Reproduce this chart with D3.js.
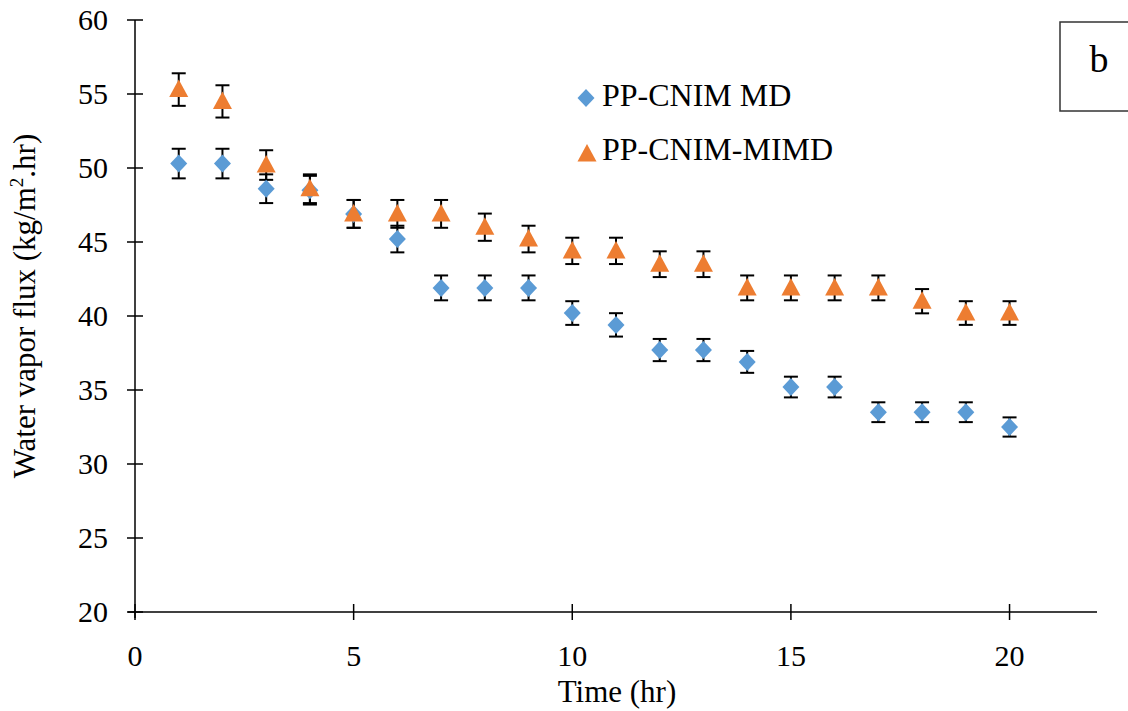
<!DOCTYPE html>
<html><head><meta charset="utf-8">
<script src="https://cdn.jsdelivr.net/npm/d3@7"></script>
<style>body{margin:0;background:#fff}svg{display:block}text{font-family:"Liberation Serif","Times New Roman",serif;fill:#000}</style>
</head><body>
<svg id="c" width="1128" height="711"></svg>
<script>
const times = [1,2,3,4,5,6,7,8,9,10,11,12,13,14,15,16,17,18,19,20];
const mdFlux = [50.3,50.3,48.6,48.5,46.9,45.2,41.9,41.9,41.9,40.2,39.4,37.7,37.7,36.9,35.2,35.2,33.5,33.5,33.5,32.5];
const mdErr = [1.0,1.0,0.97,0.97,0.94,0.9,0.84,0.84,0.84,0.8,0.79,0.75,0.75,0.74,0.7,0.7,0.67,0.67,0.67,0.65];
const mimdFlux = [55.3,54.5,50.2,48.6,46.9,46.9,46.9,46.0,45.2,44.4,44.4,43.5,43.5,41.9,41.9,41.9,41.9,41.0,40.2,40.2];
const mimdErr = [1.1,1.09,1.0,0.97,0.94,0.94,0.94,0.92,0.9,0.89,0.89,0.87,0.87,0.84,0.84,0.84,0.84,0.82,0.8,0.8];
const xTicks = [0,5,10,15,20];
const yTicks = [20,25,30,35,40,45,50,55,60];
const seriesNames = ["PP-CNIM MD","PP-CNIM-MIMD"];
const colors = ["#5b9bd5","#ed7d31"];

const svg = d3.select("#c");
const x = d3.scaleLinear().domain([0,22]).range([135,1097]);
const y = d3.scaleLinear().domain([20,60]).range([612,20]);

// axes
svg.append("line").attr("x1",128).attr("x2",x(22)).attr("y1",612).attr("y2",612).attr("stroke","#000").attr("stroke-width",1.5);
svg.append("line").attr("x1",135).attr("x2",135).attr("y1",y(20)+6).attr("y2",y(60)).attr("stroke","#000").attr("stroke-width",1.5);
svg.selectAll(".xt").data(xTicks).enter().append("line")
  .attr("x1",d=>x(d)).attr("x2",d=>x(d)).attr("y1",604).attr("y2",620).attr("stroke","#000").attr("stroke-width",1.5);
svg.selectAll(".yt").data(yTicks).enter().append("line")
  .attr("x1",127).attr("x2",143).attr("y1",d=>y(d)).attr("y2",d=>y(d)).attr("stroke","#000").attr("stroke-width",1.5);
svg.selectAll(".xl").data(xTicks).enter().append("text")
  .attr("x",d=>x(d)).attr("y",666).attr("text-anchor","middle").attr("font-size",30).text(d=>d);
svg.selectAll(".yl").data(yTicks).enter().append("text")
  .attr("x",108).attr("y",d=>y(d)+10).attr("text-anchor","end").attr("font-size",30).text(d=>d);

svg.append("text").attr("x",617).attr("y",702).attr("text-anchor","middle").attr("font-size",31).text("Time (hr)");
const yl = svg.append("text").attr("transform","translate(35,306) rotate(-90)").attr("text-anchor","middle").attr("font-size",31);
yl.append("tspan").text("Water vapor flux (kg/m");
yl.append("tspan").attr("font-size",19).attr("dy",-12).text("2");
yl.append("tspan").attr("dy",12).text(".hr)");

// error bars
function errBars(vals, errs){
  const g = svg.append("g");
  times.forEach((t,i)=>{
    const cx = x(t), y1 = y(vals[i]+errs[i]), y2 = y(vals[i]-errs[i]);
    g.append("line").attr("x1",cx).attr("x2",cx).attr("y1",y1).attr("y2",y2).attr("stroke","#000").attr("stroke-width",2);
    [y1,y2].forEach(yy=>g.append("line").attr("x1",cx-7).attr("x2",cx+7).attr("y1",yy).attr("y2",yy).attr("stroke","#000").attr("stroke-width",2));
  });
}
errBars(mdFlux, mdErr);
errBars(mimdFlux, mimdErr);

const diamond = "M0,-9L8.5,0L0,9L-8.5,0Z";
const tri = "M0,-10L9.5,7.5L-9.5,7.5Z";
svg.append("g").selectAll("path").data(times).enter().append("path")
  .attr("d",diamond).attr("fill",colors[0])
  .attr("transform",(d,i)=>`translate(${x(d)},${y(mdFlux[i])})`);
svg.append("g").selectAll("path").data(times).enter().append("path")
  .attr("d",tri).attr("fill",colors[1])
  .attr("transform",(d,i)=>`translate(${x(d)},${y(mimdFlux[i])})`);

// legend
svg.append("path").attr("d",diamond).attr("fill",colors[0]).attr("transform","translate(586,98)");
svg.append("text").attr("x",602).attr("y",106).attr("font-size",32).text(seriesNames[0]);
svg.append("path").attr("d",tri).attr("fill",colors[1]).attr("transform","translate(587,154)");
svg.append("text").attr("x",602).attr("y",160).attr("font-size",32).text(seriesNames[1]);

// label box
svg.append("rect").attr("x",1060).attr("y",22).attr("width",80).attr("height",89).attr("fill","#fff").attr("stroke","#333").attr("stroke-width",1.5);
svg.append("text").attr("x",1099).attr("y",72).attr("text-anchor","middle").attr("font-size",38).text("b");
</script>
</body></html>
